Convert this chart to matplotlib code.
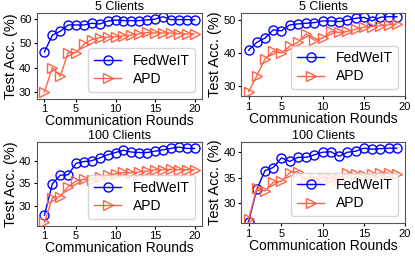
import matplotlib
matplotlib.use('Agg')
import matplotlib.pyplot as plt

plt.rcParams['font.family'] = ['Liberation Sans', 'DejaVu Sans']

# rounds
rounds_20 = list(range(1, 21))
rounds_19 = list(range(1, 20))

# top-left: 5 clients
fed_tl = [46.5, 53.4, 55.0, 57.6, 57.6, 57.6, 58.3, 58.0, 59.2, 59.6, 59.4, 59.4, 59.4, 59.7, 60.0, 61.0, 59.8, 59.8, 59.8, 59.7]
apd_tl = [30.0, 40.0, 36.5, 46.2, 46.2, 49.7, 51.6, 52.4, 52.6, 52.7, 53.1, 53.4, 53.9, 54.5, 54.3, 54.3, 54.3, 54.0, 53.9, 53.9]

# top-right: 5 clients
fed_tr = [40.8, 43.2, 44.5, 47.0, 46.7, 48.5, 48.8, 49.0, 49.2, 49.7, 49.7, 49.5, 50.0, 50.5, 50.8, 49.7, 50.8, 51.0, 51.0]
apd_tr = [28.2, 33.0, 38.2, 40.5, 40.0, 42.0, 43.2, 45.8, 43.8, 44.5, 46.5, 46.2, 46.5, 47.2, 47.8, 48.0, 48.2, 48.5, 48.8]

# bottom-left: 100 clients
fed_bl = [28.0, 34.9, 36.8, 36.9, 39.4, 39.8, 40.0, 40.6, 41.3, 41.8, 42.3, 41.9, 41.8, 41.8, 42.1, 42.4, 42.7, 43.0, 42.7, 42.7]
apd_bl = [26.4, 31.8, 32.1, 34.3, 35.5, 35.9, 35.7, 36.3, 36.8, 37.1, 37.4, 37.3, 37.5, 37.7, 38.0, 38.0, 38.1, 38.0, 38.0, 38.0]

# bottom-right: 100 clients
fed_br = [26.3, 32.7, 36.4, 37.0, 38.9, 38.2, 39.0, 39.0, 39.5, 40.0, 40.1, 39.2, 40.0, 40.2, 40.8, 40.6, 40.7, 40.8, 40.8]
apd_br = [26.8, 32.9, 32.4, 34.1, 34.3, 36.0, 36.2, 34.4, 34.6, 35.0, 34.9, 34.8, 35.9, 35.7, 35.5, 35.7, 35.9, 35.9, 35.7]

xticks = [1, 5, 10, 15, 20]

panels = [
    # rect, x, fed, apd, title, ylim, yticks, xlim
    ([0.089, 0.615, 0.398, 0.334], rounds_20, fed_tl, apd_tl, '5 Clients', (27.3, 62.5), [30, 40, 50, 60], (0.05, 20.95)),
    ([0.581, 0.625, 0.395, 0.324], rounds_19, fed_tr, apd_tr, '5 Clients', (26.9, 52.1), [30, 40, 50], (0.1, 20)),
    ([0.089, 0.119, 0.398, 0.326], rounds_20, fed_bl, apd_bl, '100 Clients', (25.7, 44.1), [30, 35, 40], (0.05, 20.95)),
    ([0.581, 0.129, 0.395, 0.316], rounds_19, fed_br, apd_br, '100 Clients', (26.1, 42.0), [30, 35, 40], (0.1, 20)),
]

fig = plt.figure(figsize=(4.15, 2.56), dpi=100)

for rect, x, fed, apd, title, ylim, yticks, xlim in panels:
    ax = fig.add_axes(rect)
    ax.plot(x, fed, color='blue', marker='o', markersize=6.5, markerfacecolor='none',
            linewidth=1, label='FedWeIT')
    ax.plot(x, apd, color='tomato', marker='>', markersize=6.5, markerfacecolor='none',
            linewidth=1, label='APD')
    ax.set_xlim(*xlim)
    ax.set_ylim(*ylim)
    ax.set_xticks(xticks)
    ax.set_yticks(yticks)
    ax.tick_params(labelsize=8, length=2.5, pad=1.5)
    ax.set_title(title, fontsize=9, pad=2)
    ax.set_xlabel('Communication Rounds', fontsize=10, labelpad=0)
    ax.set_ylabel('Test Acc. (%)', fontsize=10.5, labelpad=1)
    for s in ax.spines.values():
        s.set_color('#555555')
        s.set_linewidth(0.8)
    ax.legend(loc='lower right', fontsize=10, handlelength=2.0, borderpad=0.4,
              labelspacing=0.3, handletextpad=0.8)

plt.savefig('out.png', dpi=100)
